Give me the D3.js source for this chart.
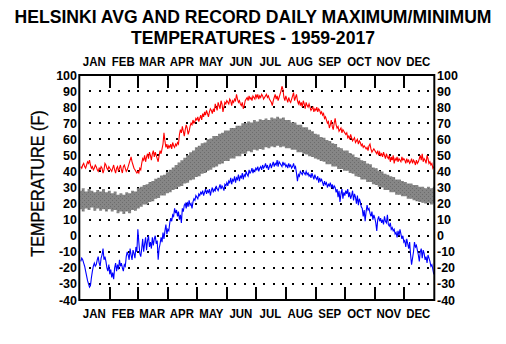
<!DOCTYPE html>
<html><head><meta charset="utf-8">
<script src="https://cdn.jsdelivr.net/npm/d3@7"></script>
<style>html,body{margin:0;padding:0;background:#fff;} svg{display:block;}</style>
</head><body><svg id="c" width="506" height="344"></svg>
<script>
const titleLines = ["HELSINKI AVG AND RECORD DAILY MAXIMUM/MINIMUM", "TEMPERATURES - 1959-2017"];
const yAxisTitle = "TEMPERATURE (F)";
const months = ["JAN","FEB","MAR","APR","MAY","JUN","JUL","AUG","SEP","OCT","NOV","DEC"];
const monthStarts = [0,31,60,91,121,152,182,213,244,274,305,335,366];
const yTicks = [100,90,80,70,60,50,40,30,20,10,0,-10,-20,-30,-40];
const gridLevels = [90,80,70,60,50,40,30,20,10,0,-10,-20,-30];

const recordMax = [
43,42,44,45,43,42,44,46,45,47,44,42,43,41,42,44,43,41,40,42,41,43,42,39,41,45,44,42,41,43,42,
41,40,42,44,41,39,42,43,40,42,44,41,39,43,44,42,40,41,43,45,47,49,46,44,42,41,40,39,40,
39,42,41,45,48,47,50,46,49,51,48,52,50,47,51,53,49,52,50,48,46,50,53,51,54,57,64,59,55,57,54,
56,55,57,54,58,56,55,57,56,58,57,63,66,64,68,65,62,66,69,67,63,65,68,70,69,72,70,71,73,72,
74,71,73,75,72,76,74,77,75,78,76,74,77,79,78,76,79,77,82,80,78,83,81,79,84,82,77,80,83,82,84,
83,82,85,84,81,84,83,85,84,88,85,83,84,82,81,83,79,81,84,85,86,84,87,85,86,84,87,86,85,88,
86,88,85,87,86,88,87,85,86,87,88,86,87,85,84,83,81,84,86,88,85,87,84,86,88,90,93,91,86,84,87,
85,83,86,84,83,85,87,89,84,86,88,84,82,84,81,83,80,84,82,79,83,81,80,82,80,78,79,80,77,79,78,
80,77,79,78,76,77,75,76,73,74,72,70,71,67,69,72,68,66,70,73,69,67,68,65,66,67,64,66,65,64,
63,64,61,62,60,63,61,59,60,61,58,59,60,57,59,58,56,57,55,56,55,54,55,53,56,57,54,52,53,54,53,
52,51,53,50,52,50,51,49,52,50,48,51,49,48,50,46,49,47,50,45,48,47,49,46,48,47,46,49,47,48,
47,45,48,46,47,45,46,48,45,47,46,44,47,45,46,48,50,47,51,46,48,47,45,50,48,45,46,44,45,42,43
];

const recordMin = [
-16,-14,-15,-17,-19,-22,-25,-28,-30,-32,-31,-26,-22,-19,-17,-19,-18,-15,-13,-17,-19,-14,-12,-8,-15,-13,-16,-20,-22,-18,-24,
-21,-26,-23,-27,-20,-17,-22,-18,-21,-15,-19,-17,-20,-22,-18,-19,-13,-10,-12,-15,-8,-12,-15,-9,-11,-14,-7,-10,4,
-4,-11,-13,-8,-2,-10,-5,-1,-9,-3,0,-7,-4,-8,-1,-6,-2,0,-5,-3,-15,-8,-5,-1,-4,2,-2,3,7,1,4,
3,8,11,9,13,12,17,14,16,12,15,10,13,8,17,15,19,20,17,21,18,22,19,20,17,21,23,22,25,24,
23,26,25,27,26,28,25,27,29,26,28,27,29,25,28,30,27,29,28,31,29,28,30,32,29,31,30,28,32,31,33,
31,34,33,36,32,35,34,37,33,36,35,38,34,37,36,39,35,38,37,40,38,37,41,39,40,42,39,41,40,42,
41,43,40,42,43,41,44,42,43,45,42,44,41,43,45,42,44,46,43,45,44,47,43,46,45,44,43,46,44,45,43,
44,42,45,43,44,42,43,45,42,43,39,34,38,37,40,39,38,40,39,38,40,38,39,37,38,36,39,37,35,38,36,
35,37,33,36,34,35,33,31,34,32,33,30,32,31,33,30,32,29,31,30,27,29,24,28,21,26,29,23,27,25,
28,26,29,24,27,23,25,28,22,26,24,20,25,19,23,21,18,17,12,16,9,15,19,16,17,14,12,15,10,13,11,
8,3,10,12,9,11,8,10,7,12,9,8,13,7,6,8,4,5,3,4,1,2,-1,3,0,4,1,-2,0,-4,
-3,-7,-2,-5,-8,-4,-12,-18,-14,-10,-4,-7,-6,-9,-12,-16,-10,-8,-14,-9,-11,-15,-13,-17,-12,-14,-16,-19,-18,-21,-24
];

const bandStep = 3; // days between band samples
const avgMax = [
28,29.5,27.5,29,28,27,28.5,27.5,29,27,28,26.5,27.5,25.5,26.5,25.5,27,26.5,28,27.5,
29.5,30.5,31.5,32,33.5,34,35.5,36,37.5,38,39.5,41,42.5,44,45.5,47,48.5,50,52,53,
55,56,57.5,58,60,60.5,62,62,63.5,64,65.5,65.5,67,67,68.5,68.5,70,70,71,70.5,
72,71,72.5,72,73,72,73.5,73,74,73,73.5,72,72,70.5,70.5,69,69,67.5,67.5,66,
65,63.5,63,61.5,61,59.5,59,57.5,57,55,54.5,53,53,51.5,50.5,49,48.5,47,46.5,45,
44.5,42.5,42,40.5,40,38.5,38,37,36.5,35,35,34,33.5,32.5,32.5,31.5,31.5,30.5,30.5,29.5,
30.5,29.5,30.5
];
const avgMin = [
16.5,15,17,16,17.5,15.5,17,15.5,16.5,15,16.5,15,16,14,15,13.5,15,14,16,15.5,
17,18,19.5,19.5,21,21.5,23,23.5,25,25,26.5,27,28.5,29,30.5,31,32.5,33,34.5,35,
36.5,37,38.5,39,40.5,41,42.5,43,44.5,45,46.5,46.5,48,48,49.5,49.5,51,51,52.5,52,
53.5,53,54,53.5,55,54.5,55.5,55,56,55,55.5,54.5,54.5,53.5,53.5,52,52,51,50.5,49.5,
49,48,47.5,46.5,46,44.5,44.5,43,43,41.5,41.5,40.5,40.5,39,38.5,37,36.5,35,35,33.5,
33.5,32,31.5,30.5,30,28.5,28.5,27,27,25.5,25.5,24.5,24.5,23,23,22,21.5,21,20.5,20,
20.5,19.5,20
];

const svg = d3.select("#c");
const W = 506, H = 344;
const x = d3.scaleLinear().domain([0, 366]).range([80.3, 434.3]);
const y = d3.scaleLinear().domain([-40, 100]).range([300, 75]);
const FONT = "'Liberation Sans', Arial, Helvetica, sans-serif";

svg.append("rect").attr("width", W).attr("height", H).attr("fill", "#fff");

// pattern for band
const defs = svg.append("defs");
const pat = defs.append("pattern").attr("id", "speck").attr("patternUnits", "userSpaceOnUse")
  .attr("width", 4).attr("height", 4);
pat.append("rect").attr("width", 4).attr("height", 4).attr("fill", "#868686");
pat.append("rect").attr("x", 0).attr("y", 0).attr("width", 1).attr("height", 1).attr("fill", "#6c6c6c");
pat.append("rect").attr("x", 2).attr("y", 2).attr("width", 1).attr("height", 1).attr("fill", "#6c6c6c");

function squeeze(sel, factor) {
  sel.each(function () {
    const w = this.getComputedTextLength();
    d3.select(this).attr("textLength", w * factor).attr("lengthAdjust", "spacingAndGlyphs");
  });
}

// titles (slightly stretched vertically)
svg.append("g").selectAll("text").data(titleLines).join("text")
  .attr("transform", (d, i) => `translate(${W / 2},${22.5 + i * 21.5}) scale(1,1.08)`)
  .attr("text-anchor", "middle").attr("font-family", FONT).attr("font-weight", "bold")
  .attr("font-size", 17.6).attr("fill", "#000")
  .text(d => d);

// y-axis title
const yt = svg.append("text").attr("transform", `translate(44,${(y(100) + y(-40)) / 2 - 4}) rotate(-90)`)
  .attr("text-anchor", "middle").attr("font-family", FONT).attr("font-size", 18)
  .attr("fill", "#000").attr("stroke", "#000").attr("stroke-width", 0.3).text(yAxisTitle);
squeeze(yt, 0.9);

// grid dots every 10 days at each 10-degree level
const dotDays = d3.range(10, 366, 10);
const gGrid = svg.append("g").attr("shape-rendering", "crispEdges");
gridLevels.forEach(lv => {
  gGrid.selectAll(null).data(dotDays).join("rect")
    .attr("x", d => Math.round(x(d)) - 1).attr("y", Math.round(y(lv)) - 1)
    .attr("width", 2).attr("height", 2).attr("fill", "#000");
});

// band
const area = d3.area()
  .x((d, i) => x(i * bandStep))
  .y0((d, i) => y(avgMin[i]))
  .y1(d => y(d))
  .curve(d3.curveStep);
svg.append("path").datum(avgMax).attr("d", area).attr("fill", "url(#speck)");

// record lines
const line = d3.line().x((d, i) => x(i + 0.5)).y(d => y(d));
svg.append("path").datum(recordMax).attr("d", line).attr("fill", "none").attr("stroke", "#ff0000").attr("stroke-width", 1.1);
svg.append("path").datum(recordMin).attr("d", line).attr("fill", "none").attr("stroke", "#0000ff").attr("stroke-width", 1.1);

// month ticks top and bottom
const inner = monthStarts.slice(1, -1);
const gt = svg.append("g").attr("shape-rendering", "crispEdges");
gt.selectAll(null).data(inner).join("line")
  .attr("x1", d => x(d)).attr("x2", d => x(d)).attr("y1", y(100)).attr("y2", y(100) + 13)
  .attr("stroke", "#000").attr("stroke-width", 2);
gt.selectAll(null).data(inner).join("line")
  .attr("x1", d => x(d)).attr("x2", d => x(d)).attr("y1", y(-40)).attr("y2", y(-40) - 13)
  .attr("stroke", "#000").attr("stroke-width", 2);

// frame
svg.append("rect").attr("x", x(0) - 1).attr("y", y(100)).attr("width", x(366) - x(0) + 1)
  .attr("height", y(-40) - y(100)).attr("fill", "none").attr("stroke", "#000").attr("stroke-width", 2);

// month labels
const mid = months.map((m, i) => (monthStarts[i] + monthStarts[i + 1]) / 2);
["top", "bottom"].forEach(pos => {
  const ml = svg.append("g").selectAll("text").data(months).join("text")
    .attr("x", (d, i) => x(mid[i]) - 1)
    .attr("y", pos === "top" ? 65.5 : 318)
    .attr("text-anchor", "middle").attr("font-family", FONT).attr("font-weight", "bold")
    .attr("font-size", 13).attr("fill", "#000").text(d => d);
  squeeze(ml, 0.88);
});

// y tick labels left and right
[{ xp: 77, anchor: "end" }, { xp: 437, anchor: "start" }].forEach(s => {
  svg.append("g").selectAll("text").data(yTicks).join("text")
    .attr("x", s.xp).attr("y", d => y(d)).attr("dy", "0.36em")
    .attr("text-anchor", s.anchor).attr("font-family", FONT).attr("font-weight", "bold")
    .attr("font-size", 12.5).attr("fill", "#000").text(d => d);
});
</script>
</body></html>
